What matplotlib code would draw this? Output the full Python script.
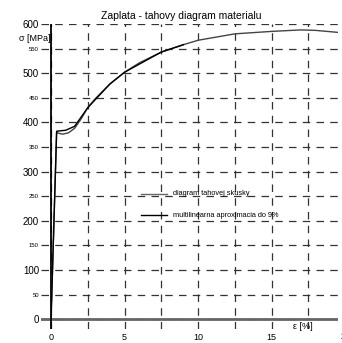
import matplotlib
matplotlib.use("Agg")
import matplotlib.pyplot as plt

plt.rcParams['font.family'] = ['Liberation Sans', 'DejaVu Sans']

# test diagram (strain %, stress MPa)
eps_test = [0, 0.38, 0.5, 0.8, 1.2, 1.6, 2.0, 2.5, 3.0, 4.0, 5.0, 6.0, 7.5, 9.0, 10.0, 12.5, 15.0, 17.0, 18.0, 19.5]
sig_test = [0, 380, 378, 376, 379, 388, 405, 430, 448, 478, 502, 521, 543, 558, 567, 580, 585, 588, 587, 583]

# multilinear approximation up to 9 %
eps_multi = [0, 0.38, 1.0, 1.6, 2.5, 4.0, 5.0, 7.5, 9.0]
sig_multi = [0, 382, 384, 392, 430, 478, 502, 543, 558]

major_y = [0, 100, 200, 300, 400, 500, 600]
minor_y = [50, 150, 250, 350, 450, 550]
x_ticks = [0, 5, 10, 15]
x_grid = [0, 2.5, 5, 7.5, 10, 12.5, 15, 17.5]

fig = plt.figure(figsize=(3.42, 3.43), dpi=100)
ax = fig.add_axes([0.12, 0.041, 0.868, 0.889])
ax.set_xlim(-0.68, 19.5)
ax.set_ylim(-20, 600)
for s in ax.spines.values():
    s.set_visible(False)

# dashed grid
for y in major_y + minor_y:
    ax.axhline(y, color='#333333', lw=0.9, ls=(0, (6, 5)), zorder=1)
for x in x_grid:
    ax.axvline(x, color='#333333', lw=0.9, ls=(0, (6, 5)), zorder=1)

# axes lines
ax.axhline(0, color='#666666', lw=2.0, zorder=2)
ax.axvline(0, color='black', lw=1.3, zorder=2)

ax.plot(eps_test, sig_test, color='#444444', lw=1.0, zorder=3)
ax.plot(eps_multi, sig_multi, color='black', lw=1.0, zorder=4)

ax.set_xticks(x_ticks)
ax.set_xticklabels([str(v) for v in x_ticks], fontsize=6.5)
ax.set_yticks(major_y + minor_y)
ax.set_yticklabels([str(v) for v in major_y + minor_y])
for lab, v in zip(ax.get_yticklabels(), major_y + minor_y):
    lab.set_fontsize(7 if v in major_y else 4.3)
ax.tick_params(axis='y', length=0, pad=1.5)
ax.tick_params(axis='x', length=0, pad=3)

ax.text(-0.05, 570, 'σ [MPa]', fontsize=6.5, ha='right', va='center')
ax.text(17.1, -6, 'ε [%]', fontsize=6.5, ha='center', va='top')
ax.text(20.0, -26, '20', fontsize=6.5, ha='center', va='top', clip_on=False)
fig.text(0.53, 0.953, 'Zaplata - tahovy diagram materialu', fontsize=7.5, ha='center', va='center')

# legend
ax.plot([6.1, 7.9], [255, 255], color='#666666', lw=1.0, zorder=4)
ax.plot([6.1, 7.9], [211, 211], color='black', lw=1.0, zorder=4)
ax.text(8.3, 255, 'diagram tahovej skusky', fontsize=5.3, va='center')
ax.text(8.3, 211, 'multilinearna aproximacia do 9%', fontsize=5.3, va='center')

fig.savefig('out.png', dpi=100)
